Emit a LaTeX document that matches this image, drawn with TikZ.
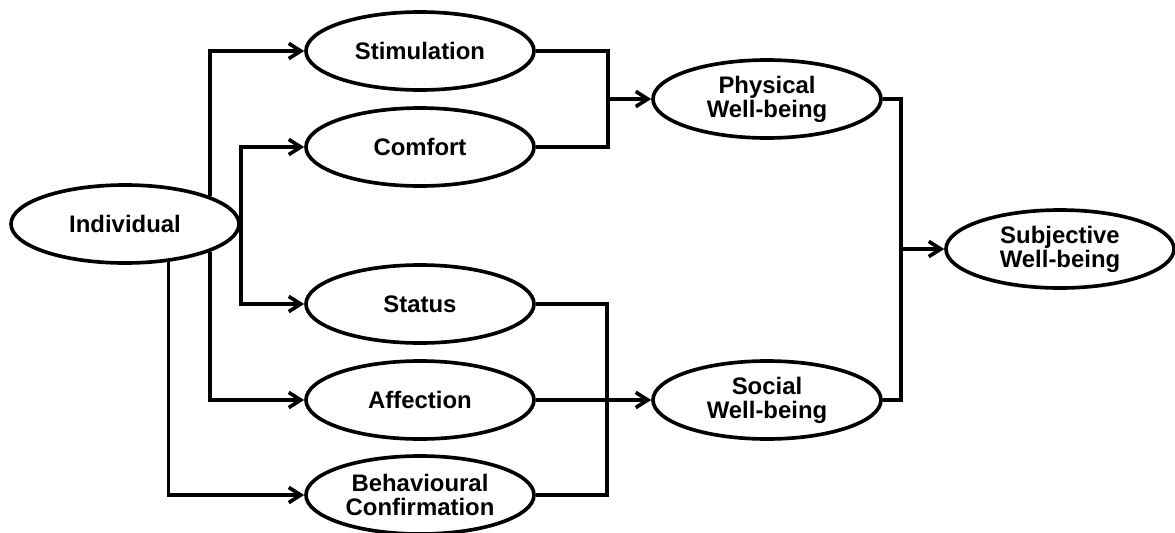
\documentclass[tikz,border=0pt]{standalone}
\usepackage{fontspec}
\setmainfont{Liberation Sans}
\usetikzlibrary{arrows.meta,positioning,shapes.geometric}

\tikzset{
  latent/.style={ellipse, draw, fill=white, inner sep=0pt,
    minimum width=5.7cm, minimum height=1.95cm, align=center,
    font=\fontsize{17}{17}\selectfont\bfseries},
}

\begin{document}
\begin{tikzpicture}[>={Straight Barb[length=3mm,width=3.8mm]}, line width=2.6pt]

    \useasboundingbox (-10.5,1.275) rectangle (18.875,-12.025);

    % middle column
    \node[latent] (stim) {Stimulation};
    \node[latent,below of=stim,yshift=-14mm] (comf) {Comfort};
    \node[latent,below of=comf,yshift=-29.25mm] (stat) {Status};
    \node[latent,below of=stat,yshift=-14mm] (aff) {Affection};
    \node[latent,below of=aff,yshift=-13.75mm] (beh) {Behavioural\\Confirmation};

    \node[latent,left of=comf,xshift=-63.75mm,yshift=-19.25mm] (ind) {Individual};

    \node[latent,right of=stim,xshift=76.75mm,yshift=-12mm] (phys) {Physical\\Well-being};
    \node[latent,right of=aff,xshift=76.75mm] (soc) {Social\\Well-being};
    \node[latent,right of=phys,xshift=63.25mm,yshift=-37.5mm] (subj) {Subjective\\Well-being};

    % junctions
    \coordinate[left of=phys,xshift=-29.75mm] (jphys);
    \coordinate[left of=soc,xshift=-30mm] (jsoc);
    \coordinate[left of=subj,xshift=-29.75mm] (jsubj);

    \draw[->] (ind.18.3) |- (stim);
    \draw[->] (ind.east) |- (comf);
    \draw[->] (ind.east) |- (stat);
    \draw[->] (ind.-18.3) |- (aff);
    \draw[->] (ind.-41.7) |- (beh);

    \draw (stim) -| (jphys) |- (comf);
    \draw[->] (jphys) -- (phys);

    \draw (stat) -| (jsoc) |- (beh);
    \draw[->] (aff) -- (soc);

    \draw (phys) -| (jsubj) |- (soc);
    \draw[->] (jsubj) -- (subj);

\end{tikzpicture}
\end{document}
